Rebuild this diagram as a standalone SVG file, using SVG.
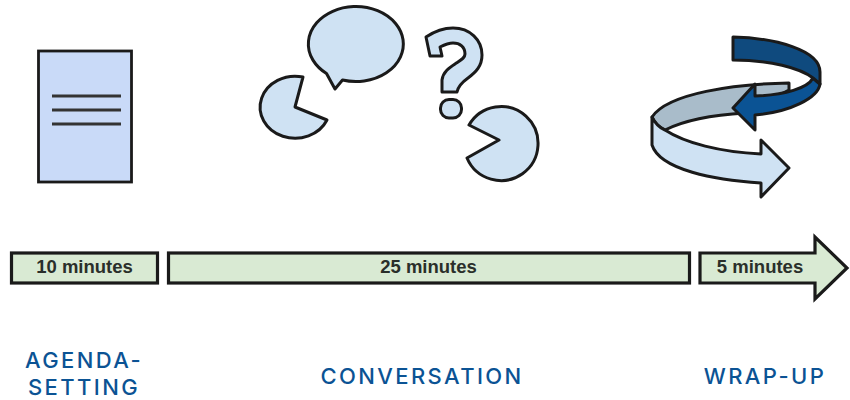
<svg xmlns="http://www.w3.org/2000/svg" width="850" height="400" viewBox="0 0 850 400">
<style>
.o{stroke:#1a1a1a;stroke-width:3;stroke-linejoin:round;stroke-linecap:round}
.b{fill:#cfe2f3}
.g{fill:#d9ead3;stroke:#1a1a1a;stroke-width:3.2;stroke-linejoin:miter}
.t{font-family:"Liberation Sans",Arial,sans-serif;font-weight:700;font-size:18.500px;fill:#2a2f2a;text-anchor:middle}
.h{font-family:Inter,"Open Sans",sans-serif;font-size:22px;font-weight:500;letter-spacing:2.400px;fill:#0b5394;text-anchor:middle}
</style>
<g id="document">
<rect x="38.500" y="51" width="93" height="131" fill="#c9daf8" stroke="#1a1a1a" stroke-width="2.800"/>
<path d="M52 96H121M52 110H121M52 124H121" fill="none" stroke="#333" stroke-width="2.800"/>
</g>
<g id="conversation">
<path class="o b" d="M303 77 A35 31 0 1 0 327 120 L295 107 Z"/>
<path class="o b" d="M326.500 73.500 A47.500 37.500 0 1 1 342.500 80 L335 89 Z"/>
<path class="o b" d="M426 37 C435 31 444 28 453 28 C470 28 482 40 482 55 C482 66 476 72 468 78 C461 83 458 87 457 92 L442 92 L442 80 C443 72 449 68 455 64 C461 60 465 58 465 54 C465 47 460 43 453 43 C448 43 444 45 440 47 L442 56 L430 56 Z"/>
<rect class="o b" x="440.500" y="99.500" width="21" height="18.500" rx="8.500"/>
<path class="o b" d="M469 125 A37 37 0 1 1 467 158 L499 140 Z"/>
</g>
<g id="spiral-arrow">
<path class="o" fill="#a9bcca" d="M789 83 C735 84 668 93 652 117 C654 123 659 127 665 130 C685 120 710 115 745 113 L789 90 Z"/>
<path class="o b" d="M652 117 C655 123 660 128 665 130 C685 143 720 152 761 154 L761 140 L789 168 L761 197 L761 183 C715 180 660 170 652 145 Z"/>
<path class="o" fill="#0b5394" d="M820 84 C818 98 790 112 755 115 L755 130 L733 108 L755 84 L755 96 C785 95 808 88 813 78 Z"/>
<path class="o" fill="#0f4a7e" d="M733 37 C775 38 820 50 820 72 L820 84 L813 78 C800 68 770 60 733 60 Z"/>
</g>
<g id="timeline">
<rect class="g" x="11.500" y="253" width="146" height="30"/>
<rect class="g" x="168.500" y="253" width="521" height="30"/>
<path class="g" d="M700 253H815V237L847 268L815 299V283H700Z"/>
</g>
<text class="t" x="84.500" y="273">10 minutes</text>
<text class="t" x="428.500" y="273">25 minutes</text>
<text class="t" x="760" y="273">5 minutes</text>
<text class="h" x="84" y="368">AGENDA-</text>
<text class="h" x="84" y="394.500">SETTING</text>
<text class="h" x="422" y="384">CONVERSATION</text>
<text class="h" x="765" y="384">WRAP-UP</text>
</svg>
